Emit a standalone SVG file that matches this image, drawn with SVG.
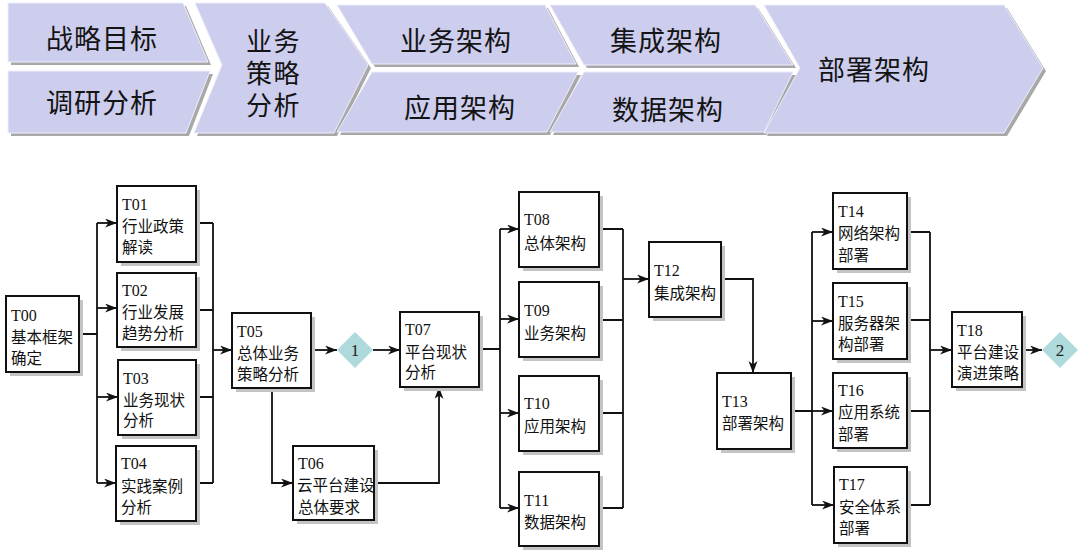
<svg xmlns="http://www.w3.org/2000/svg" width="1080" height="552" viewBox="0 0 1080 552">
<style>
.band{fill:#CDCDEE;stroke:#EEEEFA;stroke-width:1}
.bsh{fill:#A8A8A8}
.bt{font-family:"Noto Sans CJK SC","Noto Sans",sans-serif;font-size:27px;fill:#141414;letter-spacing:1px}
.bt2{font-family:"Noto Sans CJK SC","Noto Sans",sans-serif;font-size:26px;fill:#141414;letter-spacing:1.5px}
.box{fill:#FFFFFF;stroke:#111111;stroke-width:2}
.sh{fill:#C4C4C4}
.t{font-family:"Liberation Serif","Noto Sans CJK SC",serif;font-size:16px;fill:#111111}
.c{font-family:"Noto Sans CJK SC","Liberation Serif",serif;font-size:15.5px;fill:#111111}
.ln{fill:none;stroke:#111111;stroke-width:1.8}
.ar{fill:none;stroke:#111111;stroke-width:1.8;marker-end:url(#ah)}
.dia{fill:#AEDADB}
.dn{font-family:"Liberation Serif",serif;font-size:17px;fill:#222222;text-anchor:middle}
</style>
<defs>
<marker id="ah" markerUnits="userSpaceOnUse" markerWidth="14" markerHeight="10" refX="12" refY="4.5" orient="auto">
<path d="M0,0 L12,4.5 L0,9 L3.5,4.5 Z" fill="#111111"/>
</marker>
</defs>
<rect width="1080" height="552" fill="#FFFFFF"/>

<g id="banner">
<g id="b-zhanlue">
<polygon class="bsh" points="11,6 186,6 211,65 11,65"/>
<polygon class="band" points="8,3 183,3 208,62 8,62"/>
<text class="bt" x="46" y="49">战略目标</text>
</g>
<g id="b-diaoyan">
<polygon class="bsh" points="11,74 213,74 189,136 11,136"/>
<polygon class="band" points="8,71 210,71 186,133 8,133"/>
<text class="bt" x="46" y="113">调研分析</text>
</g>
<g id="b-celue">
<polygon class="bsh" points="198,6 328,6 371,68 337,136 197,136 225,68"/>
<polygon class="band" points="195,3 325,3 368,65 334,133 194,133 222,65"/>
<text class="bt2" x="246" y="51"><tspan x="246" y="51">业务</tspan><tspan x="246" y="83">策略</tspan><tspan x="246" y="115">分析</tspan></text>
</g>
<g id="b-yewu">
<polygon class="bsh" points="340,8 548,8 579,67 375,67"/>
<polygon class="band" points="337,5 545,5 576,64 372,64"/>
<text class="bt" x="400" y="51">业务架构</text>
</g>
<g id="b-yingyong">
<polygon class="bsh" points="375,75 581,75 550,135 340,135"/>
<polygon class="band" points="372,72 578,72 547,132 337,132"/>
<text class="bt" x="404" y="118">应用架构</text>
</g>
<g id="b-jicheng">
<polygon class="bsh" points="553,8 758,8 796,68 587,68"/>
<polygon class="band" points="550,5 755,5 793,65 584,65"/>
<text class="bt" x="610" y="51">集成架构</text>
</g>
<g id="b-shuju">
<polygon class="bsh" points="587,75 796,75 767,135 553,135"/>
<polygon class="band" points="584,72 793,72 764,132 550,132"/>
<text class="bt" x="612" y="120">数据架构</text>
</g>
<g id="b-bushu">
<polygon class="bsh" points="767,8 1007,8 1046,71 1007,136 767,136 803,71"/>
<polygon class="band" points="764,5 1004,5 1043,68 1004,133 764,133 800,68"/>
<text class="bt" x="818" y="80">部署架构</text>
</g>
</g>

<g id="connectors">
<path class="ln" d="M79,334 H97 M97,223 V483"/>
<path class="ar" d="M97,223 H117"/>
<path class="ar" d="M97,308 H117"/>
<path class="ar" d="M97,397 H118"/>
<path class="ar" d="M97,483 H116"/>
<path class="ln" d="M196,223 H213 M196,310 H213 M196,397 H213 M196,483 H213 M213,223 V483"/>
<path class="ar" d="M213,350 H232"/>
<path class="ar" d="M311,350 H337"/>
<path class="ar" d="M373,350 H400"/>
<path class="ar" d="M272,388 V483 H293"/>
<path class="ar" d="M374,483 H439 V387"/>
<path class="ln" d="M479,349 H500 M500,229 V508"/>
<path class="ar" d="M500,229 H519"/>
<path class="ar" d="M500,319 H519"/>
<path class="ar" d="M500,413 H519"/>
<path class="ar" d="M500,508 H519"/>
<path class="ln" d="M599,229 H623 M599,320 H623 M599,413 H623 M599,508 H623 M623,229 V508"/>
<path class="ar" d="M623,279 H649"/>
<path class="ar" d="M721,279 H753 V373"/>
<path class="ln" d="M791,411 H812 M812,232 V505"/>
<path class="ar" d="M812,232 H833"/>
<path class="ar" d="M812,321 H833"/>
<path class="ar" d="M812,411 H833"/>
<path class="ar" d="M812,505 H834"/>
<path class="ln" d="M907,232 H930 M907,320 H930 M907,411 H930 M907,505 H930 M930,232 V505"/>
<path class="ar" d="M930,350 H952"/>
<path class="ar" d="M1022,350 H1042"/>
</g>

<g id="T00">
<rect class="sh" x="10" y="300" width="73" height="76"/>
<rect class="box" x="6" y="296" width="73" height="76"/>
<text class="t" x="11" y="321">T00</text>
<text class="c" x="11" y="343">基本框架</text>
<text class="c" x="11" y="364">确定</text>
</g>
<g id="T01">
<rect class="sh" x="121" y="190" width="79" height="76"/>
<rect class="box" x="117" y="186" width="79" height="76"/>
<text class="t" x="122" y="210">T01</text>
<text class="c" x="122" y="232">行业政策</text>
<text class="c" x="122" y="253">解读</text>
</g>
<g id="T02">
<rect class="sh" x="121" y="277" width="79" height="74"/>
<rect class="box" x="117" y="273" width="79" height="74"/>
<text class="t" x="122" y="296">T02</text>
<text class="c" x="122" y="318">行业发展</text>
<text class="c" x="122" y="339">趋势分析</text>
</g>
<g id="T03">
<rect class="sh" x="122" y="364" width="78" height="75"/>
<rect class="box" x="118" y="360" width="78" height="75"/>
<text class="t" x="123" y="384">T03</text>
<text class="c" x="123" y="406">业务现状</text>
<text class="c" x="123" y="426">分析</text>
</g>
<g id="T04">
<rect class="sh" x="120" y="450" width="80" height="75"/>
<rect class="box" x="116" y="446" width="80" height="75"/>
<text class="t" x="121" y="469">T04</text>
<text class="c" x="121" y="492">实践案例</text>
<text class="c" x="121" y="513">分析</text>
</g>
<g id="T05">
<rect class="sh" x="236" y="317" width="79" height="75"/>
<rect class="box" x="232" y="313" width="79" height="75"/>
<text class="t" x="237" y="337">T05</text>
<text class="c" x="237" y="359">总体业务</text>
<text class="c" x="237" y="380">策略分析</text>
</g>
<g id="D1">
<polygon class="dia" points="355,332 373,350 355,368 337,350"/>
<text class="dn" x="355" y="356">1</text>
</g>
<g id="T06">
<rect class="sh" x="297" y="450" width="81" height="74"/>
<rect class="box" x="293" y="446" width="81" height="74"/>
<text class="t" x="298" y="469">T06</text>
<text class="c" x="297" y="491">云平台建设</text>
<text class="c" x="298" y="513">总体要求</text>
</g>
<g id="T07">
<rect class="sh" x="404" y="316" width="79" height="75"/>
<rect class="box" x="400" y="312" width="79" height="75"/>
<text class="t" x="405" y="335">T07</text>
<text class="c" x="405" y="358">平台现状</text>
<text class="c" x="405" y="378">分析</text>
</g>
<g id="T08">
<rect class="sh" x="523" y="196" width="80" height="75"/>
<rect class="box" x="519" y="192" width="80" height="75"/>
<text class="t" x="524" y="225">T08</text>
<text class="c" x="524" y="249">总体架构</text>
</g>
<g id="T09">
<rect class="sh" x="523" y="286" width="80" height="75"/>
<rect class="box" x="519" y="282" width="80" height="75"/>
<text class="t" x="524" y="316">T09</text>
<text class="c" x="524" y="339">业务架构</text>
</g>
<g id="T10">
<rect class="sh" x="523" y="380" width="80" height="75"/>
<rect class="box" x="519" y="376" width="80" height="75"/>
<text class="t" x="524" y="409">T10</text>
<text class="c" x="524" y="432">应用架构</text>
</g>
<g id="T11">
<rect class="sh" x="523" y="476" width="80" height="74"/>
<rect class="box" x="519" y="472" width="80" height="74"/>
<text class="t" x="524" y="506">T11</text>
<text class="c" x="524" y="528">数据架构</text>
</g>
<g id="T12">
<rect class="sh" x="653" y="246" width="72" height="75"/>
<rect class="box" x="649" y="242" width="72" height="75"/>
<text class="t" x="654" y="276">T12</text>
<text class="c" x="654" y="299">集成架构</text>
</g>
<g id="T13">
<rect class="sh" x="721" y="377" width="74" height="76"/>
<rect class="box" x="717" y="373" width="74" height="76"/>
<text class="t" x="722" y="407">T13</text>
<text class="c" x="722" y="429">部署架构</text>
</g>
<g id="T14">
<rect class="sh" x="837" y="197" width="74" height="76"/>
<rect class="box" x="833" y="193" width="74" height="76"/>
<text class="t" x="838" y="217">T14</text>
<text class="c" x="838" y="239">网络架构</text>
<text class="c" x="838" y="261">部署</text>
</g>
<g id="T15">
<rect class="sh" x="837" y="287" width="74" height="76"/>
<rect class="box" x="833" y="283" width="74" height="76"/>
<text class="t" x="838" y="307">T15</text>
<text class="c" x="838" y="329">服务器架</text>
<text class="c" x="838" y="350">构部署</text>
</g>
<g id="T16">
<rect class="sh" x="837" y="377" width="74" height="75"/>
<rect class="box" x="833" y="373" width="74" height="75"/>
<text class="t" x="838" y="396">T16</text>
<text class="c" x="838" y="418">应用系统</text>
<text class="c" x="838" y="440">部署</text>
</g>
<g id="T17">
<rect class="sh" x="838" y="471" width="73" height="76"/>
<rect class="box" x="834" y="467" width="73" height="76"/>
<text class="t" x="839" y="490">T17</text>
<text class="c" x="839" y="513">安全体系</text>
<text class="c" x="839" y="534">部署</text>
</g>
<g id="T18">
<rect class="sh" x="956" y="316" width="70" height="75"/>
<rect class="box" x="952" y="312" width="70" height="75"/>
<text class="t" x="957" y="336">T18</text>
<text class="c" x="957" y="358">平台建设</text>
<text class="c" x="957" y="379">演进策略</text>
</g>
<g id="D2">
<polygon class="dia" points="1060,332 1078,350 1060,368 1042,350"/>
<text class="dn" x="1060" y="356">2</text>
</g>
</svg>
